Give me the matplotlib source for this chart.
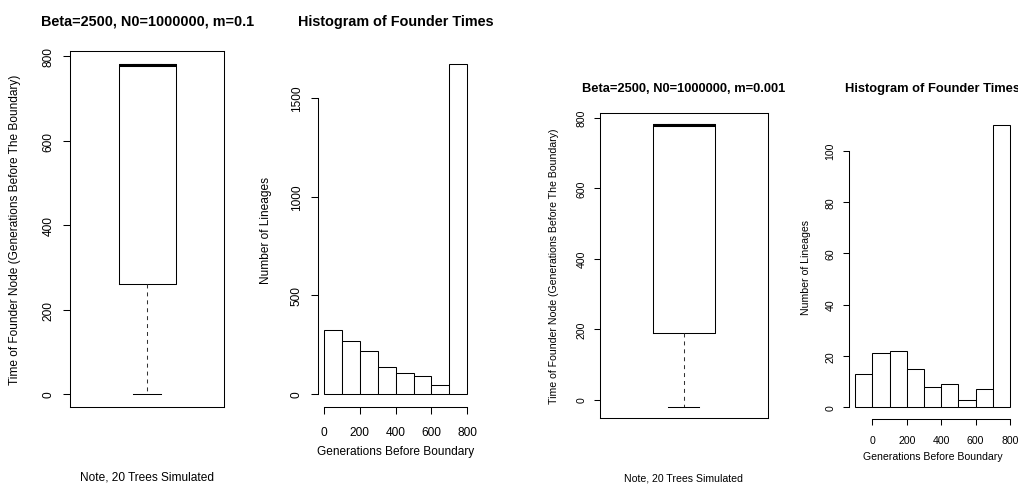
import matplotlib
matplotlib.use("Agg")
import matplotlib.pyplot as plt

# ---- data ----
box_titles = ["Beta=2500, N0=1000000, m=0.1", "Beta=2500, N0=1000000, m=0.001"]
# five-number summaries of founder times (generations before the boundary)
box_low = [0, -21]
box_q1 = [260, 190]
box_med = [780, 780]
box_q3 = [782, 781]
box_high = [782, 781]

hist_edges_a = [0, 100, 200, 300, 400, 500, 600, 700, 800]
hist_counts_a = [326, 267, 216, 138, 105, 93, 47, 1671]
hist_edges_b = [-100, 0, 100, 200, 300, 400, 500, 600, 700, 800]
hist_counts_b = [13, 21, 22, 15, 8, 9, 3, 7, 110]

box_yticks = [0, 200, 400, 600, 800]
hist_xticks = [0, 200, 400, 600, 800]
hist_yticks_a = [0, 500, 1000, 1500]
hist_yticks_b = [0, 20, 40, 60, 80, 100]

W, H = 1018, 485
plt.rcParams["font.family"] = ["Liberation Sans", "DejaVu Sans"]
fig = plt.figure(figsize=(W / 100, H / 100), dpi=100)
fig.patch.set_facecolor("white")

LW = 0.75


def rect(x0, y0, x1, y1):
    """Pixel box (top-left origin) -> figure fraction rect."""
    return [x0 / W, 1 - y1 / H, (x1 - x0) / W, (y1 - y0) / H]


def style_ticks(ax, fs, scale):
    ax.tick_params(direction="out", length=5.2 * scale, width=LW,
                   pad=6 * scale, labelsize=fs, colors="black")
    ax.tick_params(axis="x", pad=8.5 * scale)
    for lab in ax.get_yticklabels():
        lab.set_rotation(90)
        lab.set_va("center")


def place_labels(ax, box, ylab_x, xlab_y, title_y, title, tfs):
    """Put axis labels and title at pixel positions (top-left origin)."""
    x0, y0, x1, y1 = box
    ax.yaxis.set_label_coords((ylab_x - x0) / (x1 - x0), 0.5)
    ax.xaxis.set_label_coords(0.5, (y1 - xlab_y) / (y1 - y0))
    ax.set_title(title, fontsize=tfs, fontweight="bold", va="center",
                 y=(y1 - title_y) / (y1 - y0), pad=0)


def draw_box(ax, i, fs, scale):
    stats = [dict(whislo=box_low[i], q1=box_q1[i], med=box_med[i],
                  q3=box_q3[i], whishi=box_high[i])]
    ax.bxp(stats, positions=[1], widths=0.37, capwidths=0.185,
           showfliers=False, patch_artist=False,
           boxprops=dict(color="black", lw=LW),
           whiskerprops=dict(color="#333333", lw=LW, linestyle=(0, (3.8, 3.8))),
           capprops=dict(color="black", lw=LW),
           medianprops=dict(color="black", lw=2.2, solid_capstyle="butt"))
    lo = min(box_low[i], 0)
    hi = box_high[i]
    ext = (hi - lo) * 0.04
    ax.set_xlim(0.5, 1.5)
    ax.set_ylim(lo - ext, hi + ext)
    ax.set_xticks([])
    ax.set_yticks(box_yticks)
    ax.set_yticklabels([str(v) for v in box_yticks])
    for s in ax.spines.values():
        s.set_linewidth(LW)
    style_ticks(ax, fs, scale)
    ax.set_ylabel("Time of Founder Node (Generations Before The Boundary)",
                  fontsize=fs, va="center")
    ax.set_xlabel("Note, 20 Trees Simulated", fontsize=fs, va="center")


def draw_hist(ax, edges, counts, yticks, fs, scale):
    lefts = edges[:-1]
    ax.bar(lefts, counts, width=100, align="edge", facecolor="white",
           edgecolor="black", linewidth=LW)
    span = edges[-1] - edges[0]
    ax.set_xlim(edges[0] - span * 0.04, edges[-1] + span * 0.04)
    ax.set_ylim(-max(counts) * 0.04, max(counts) * 1.04)
    ax.set_xticks(hist_xticks)
    ax.set_yticks(yticks)
    ax.set_yticklabels([str(v) for v in yticks])
    ax.spines["top"].set_visible(False)
    ax.spines["right"].set_visible(False)
    ax.spines["left"].set_bounds(yticks[0], yticks[-1])
    ax.spines["bottom"].set_bounds(hist_xticks[0], hist_xticks[-1])
    for s in ax.spines.values():
        s.set_linewidth(LW)
    style_ticks(ax, fs, scale)
    ax.set_ylabel("Number of Lineages", fontsize=fs, va="center")
    ax.set_xlabel("Generations Before Boundary", fontsize=fs, va="center")


# left pair (larger text)
FS1, TFS1, S1 = 8.6, 10.4, 1.0
b1 = (70, 51.7, 224.3, 408.3)
ax1 = fig.add_axes(rect(*b1))
draw_box(ax1, 0, FS1, S1)
place_labels(ax1, b1, 15, 478, 21.7, box_titles[0], TFS1)

b2 = (318.3, 52, 473, 408.2)
ax2 = fig.add_axes(rect(*b2))
draw_hist(ax2, hist_edges_a, hist_counts_a, hist_yticks_a, FS1, S1)
place_labels(ax2, b2, 266, 451.7, 21.7, "Histogram of Founder Times", TFS1)

# right pair (smaller text)
FS2, TFS2, S2 = 7.6, 9.3, 0.86
b3 = (600, 114, 767.7, 419.3)
ax3 = fig.add_axes(rect(*b3))
draw_box(ax3, 1, FS2, S2)
place_labels(ax3, b3, 554, 478.3, 89, box_titles[1], TFS2)

b4 = (848.9, 114.7, 1016.2, 419.6)
ax4 = fig.add_axes(rect(*b4))
draw_hist(ax4, hist_edges_b, hist_counts_b, hist_yticks_b, FS2, S2)
place_labels(ax4, b4, 806, 456.7, 89, "Histogram of Founder Times", TFS2)

fig.savefig("out.png", dpi=100, facecolor="white")
